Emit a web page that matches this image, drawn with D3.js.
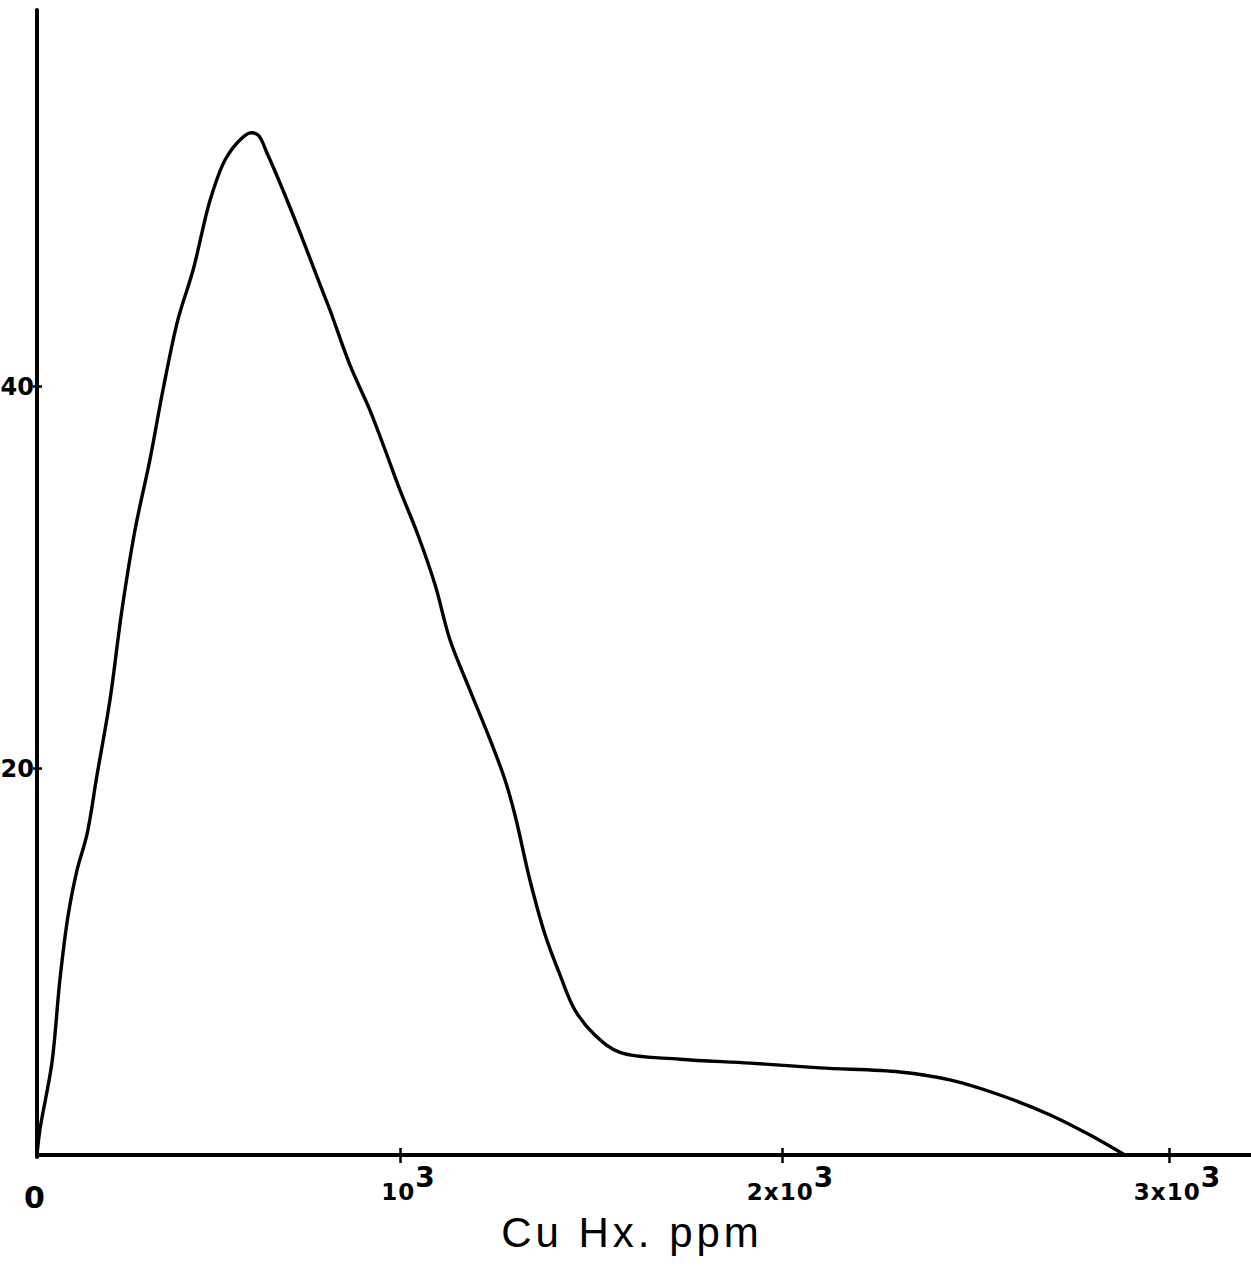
<!DOCTYPE html>
<html><head><meta charset="utf-8">
<script src="https://cdn.jsdelivr.net/npm/d3@7"></script>
<style>body{margin:0;background:#fff}svg{display:block}</style>
</head><body>
<svg id="c" width="1251" height="1272"></svg>
<script>
const xTicks = [0, 1000, 2000, 3000];
const xTickLabels = [["0",""],["10","3"],["2x10","3"],["3x10","3"]];
const yTicks = [20, 40];
const yTickLabels = ["20", "40"];
const xTitle = "Cu Hx. ppm";
const curveX = [0,8,41,63,85,110,138,165,201,234,270,311,347,388,430,477,518,559,587,609,636,683,738,780,807,862,917,959,1000,1047,1092,1131,1183,1236,1275,1301,1340,1380,1419,1458,1510,1576,1733,1916,2098,2305,2434,2563,2693,2796,2886];
const curveY = [0,1.3,4.75,9.04,12.3,14.7,16.6,19.6,23.56,28.27,32.46,36.13,39.79,43.46,46.07,49.74,51.83,52.88,53.25,53.14,52.09,50.0,47.38,45.29,43.98,41.1,38.74,36.65,34.55,32.2,29.58,26.7,24.08,21.47,19.38,17.57,14.21,11.37,9.3,7.49,6.2,5.3,4.95,4.75,4.5,4.29,3.88,3.1,2.07,1.03,0];

const svg = d3.select("#c");
// hand-drawn axes: piecewise-linear scales matching the drawn tick spacing
const x = d3.scaleLinear().domain([0,1000,2000,3000,3215]).range([37,400,782,1169,1251]);
const y = d3.scaleLinear().domain([0,20,40,60]).range([1155,768,386,4]);

const ink = "#000";
// curve
const data = curveX.map((v,i)=>[v, curveY[i]]);
svg.append("path")
  .attr("d", d3.line().x(d=>x(d[0])).y(d=>y(d[1])).curve(d3.curveCatmullRom.alpha(0.5))(data))
  .attr("fill","none").attr("stroke",ink).attr("stroke-width",3.4).attr("stroke-linejoin","round");

// y axis
const ya = svg.append("g").attr("transform","translate(37,0)")
  .call(d3.axisLeft(y).tickValues(yTicks).tickSize(0).tickFormat((d,i)=>yTickLabels[i]));
ya.select(".domain").remove();
ya.append("line").attr("x1",0).attr("x2",0).attr("y1",y(0)+2).attr("y2",10)
  .attr("stroke",ink).attr("stroke-width",4).attr("stroke-linecap","round");
ya.selectAll(".tick line").attr("x1",-4).attr("x2",5).attr("stroke",ink).attr("stroke-width",2.5);
ya.selectAll(".tick text").attr("x",-3).attr("dy","0.36em")
  .attr("font-family","DejaVu Sans").attr("font-weight","bold").attr("font-size",24).attr("fill",ink);

// x axis
const xa = svg.append("g").attr("transform",`translate(0,${y(0)})`)
  .call(d3.axisBottom(x).tickValues(xTicks).tickSize(0).tickFormat(""));
xa.select(".domain").remove();
xa.append("line").attr("x1",35).attr("x2",1251).attr("y1",0).attr("y2",0)
  .attr("stroke",ink).attr("stroke-width",4);
xa.selectAll(".tick line").filter(d=>d>0).attr("y1",-7).attr("y2",8).attr("stroke",ink).attr("stroke-width",2.5);
xa.selectAll(".tick").each(function(d,i){
  const t = d3.select(this).append("text").attr("text-anchor","middle")
    .attr("font-family","DejaVu Sans").attr("font-weight","bold").attr("fill",ink);
  if (d===0) {
    t.attr("x",-3).attr("y",53).attr("font-size",30).text(xTickLabels[i][0]);
  } else {
    t.attr("x",8).attr("y",45).attr("font-size",23).attr("letter-spacing",1);
    t.append("tspan").text(xTickLabels[i][0]);
    t.append("tspan").attr("dy",-13).attr("font-size",28).text(xTickLabels[i][1]);
  }
});

// title
svg.append("text").attr("x",632).attr("y",1247).attr("text-anchor","middle")
  .attr("font-family","Liberation Sans").attr("font-size",42).attr("letter-spacing",4).attr("fill",ink)
  .text(xTitle);
</script>
</body></html>
